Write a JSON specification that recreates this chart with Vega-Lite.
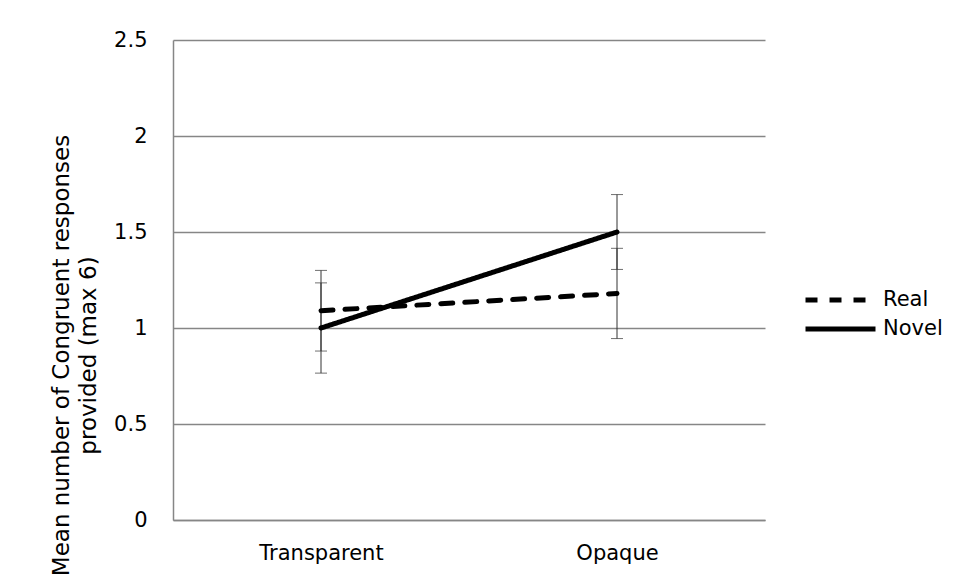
{
  "$schema": "https://vega.github.io/schema/vega-lite/v6.json",
  "width": 592,
  "height": 480,
  "autosize": {"type": "none"},
  "padding": {"left": 173, "top": 40, "right": 193, "bottom": 60},
  "background": "white",
  "config": {
    "view": {"stroke": null},
    "font": "DejaVu Sans"
  },
  "data": {
    "values": [
      {"condition": "Transparent", "series": "Real", "mean": 1.09, "lo": 0.88, "hi": 1.30},
      {"condition": "Transparent", "series": "Novel", "mean": 1.00, "lo": 0.765, "hi": 1.235},
      {"condition": "Opaque", "series": "Real", "mean": 1.18, "lo": 0.945, "hi": 1.415},
      {"condition": "Opaque", "series": "Novel", "mean": 1.50, "lo": 1.305, "hi": 1.695}
    ]
  },
  "encoding": {
    "x": {
      "field": "condition",
      "type": "nominal",
      "sort": ["Transparent", "Opaque"],
      "scale": {"type": "point", "padding": 0.5},
      "axis": {
        "title": null,
        "labelAngle": 0,
        "labelFontSize": 21,
        "labelColor": "black",
        "labelPadding": 22,
        "ticks": false,
        "domainColor": "#868686",
        "domainWidth": 1.5,
        "grid": false
      }
    }
  },
  "layer": [
    {
      "mark": {"type": "rule", "color": "#333333", "strokeWidth": 1},
      "encoding": {
        "y": {
          "field": "lo",
          "type": "quantitative",
          "scale": {"domain": [0, 2.5], "nice": false},
          "axis": {
            "values": [0, 0.5, 1, 1.5, 2, 2.5],
            "format": "~g",
            "labelFontSize": 21,
            "labelColor": "black",
            "labelPadding": 26,
            "ticks": false,
            "domainColor": "#868686",
            "domainWidth": 1.5,
            "gridColor": "#868686",
            "gridWidth": 1.5,
            "title": ["Mean number of Congruent responses", "provided (max 6)"],
            "titleFontSize": 23,
            "titleFontWeight": "normal",
            "titleColor": "black",
            "titleAngle": -90,
            "titleAlign": "center",
            "titleBaseline": "middle",
            "titleX": -112,
            "titleY": 315,
            "titleLineHeight": 27
          }
        },
        "y2": {"field": "hi"}
      }
    },
    {
      "mark": {"type": "tick", "color": "#333333", "thickness": 1, "size": 12},
      "encoding": {"y": {"field": "lo", "type": "quantitative"}}
    },
    {
      "mark": {"type": "tick", "color": "#333333", "thickness": 1, "size": 12},
      "encoding": {"y": {"field": "hi", "type": "quantitative"}}
    },
    {
      "mark": {"type": "line", "strokeWidth": 5, "strokeCap": "round", "color": "black"},
      "encoding": {
        "y": {"field": "mean", "type": "quantitative"},
        "detail": {"field": "series"},
        "strokeDash": {
          "field": "series",
          "type": "nominal",
          "sort": ["Real", "Novel"],
          "scale": {"domain": ["Real", "Novel"], "range": [[12, 12], [1, 0]]},
          "legend": {
            "title": null,
            "orient": "none",
            "legendX": 630,
            "legendY": 248,
            "symbolType": "stroke",
            "symbolSize": 4900,
            "symbolStrokeWidth": 5,
            "symbolStrokeColor": "black",
            "labelFontSize": 21,
            "labelColor": "black",
            "labelOffset": 5,
            "clipHeight": 24,
            "rowPadding": 5
          }
        }
      }
    }
  ]
}
